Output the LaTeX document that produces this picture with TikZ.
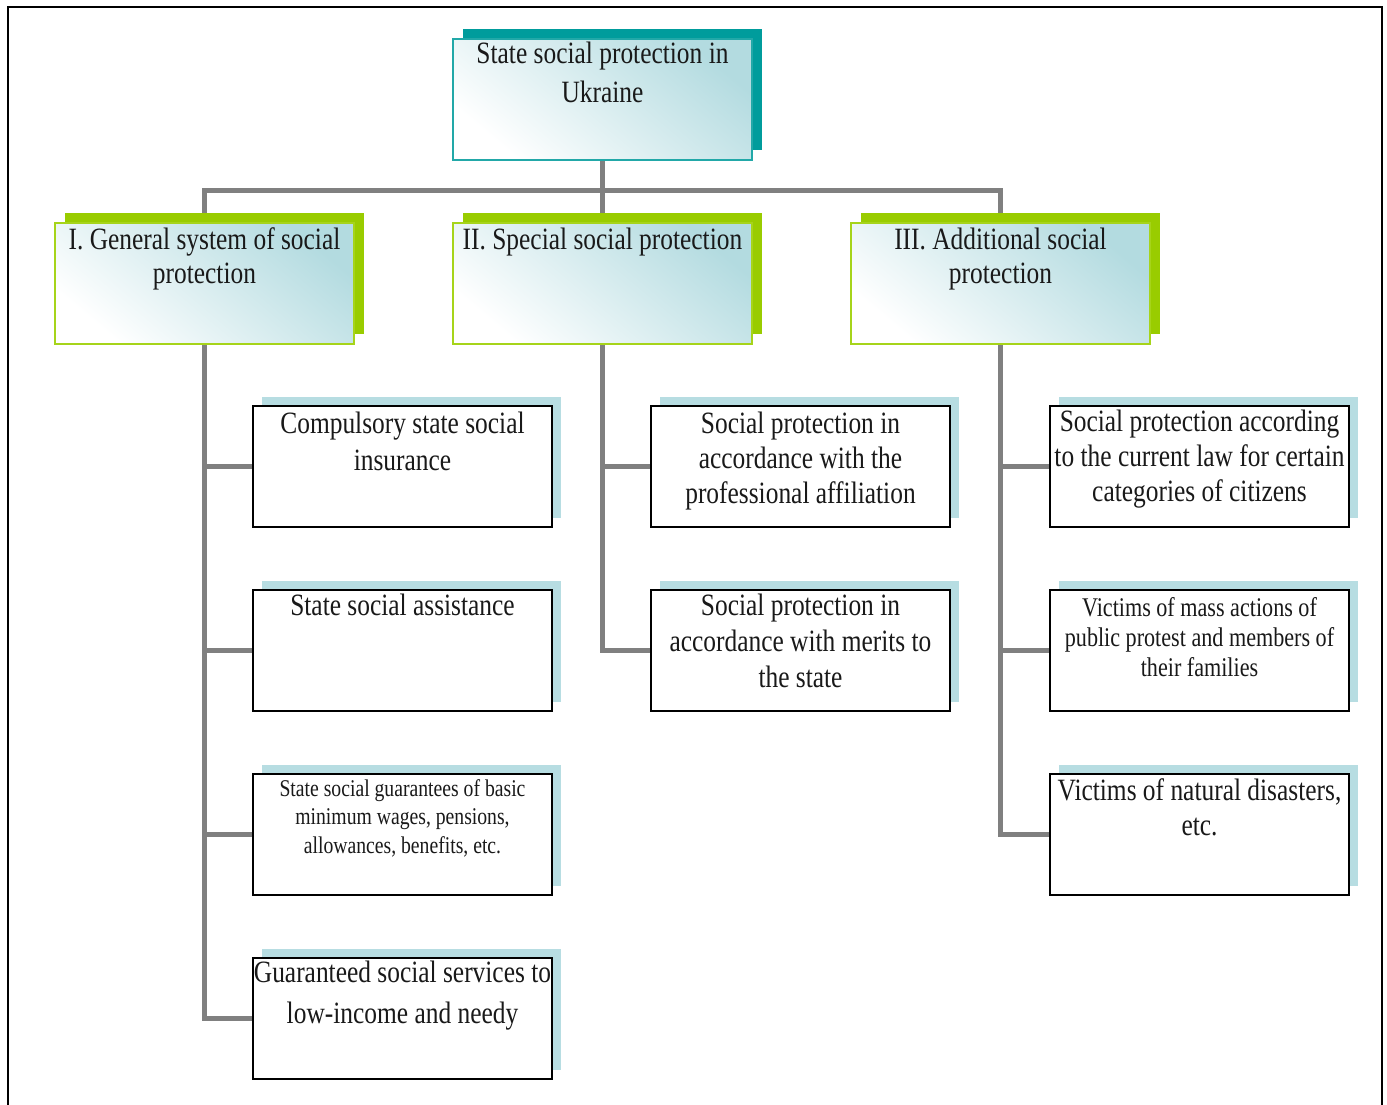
\documentclass[tikz,border=0pt]{standalone}
\usepackage{fontspec}
\setmainfont{Liberation Serif}[FakeStretch=0.82]
\usetikzlibrary{shadows}
\definecolor{tealc}{HTML}{009C9C}
\definecolor{tealb}{HTML}{22A8A8}
\definecolor{greenc}{HTML}{99CC00}
\definecolor{greenb}{HTML}{A6D41A}
\definecolor{ltblue}{HTML}{B7DDE2}
\definecolor{grad}{HTML}{B3DBE0}
\definecolor{connc}{HTML}{808080}
\pgfdeclarelayer{bg}
\pgfsetlayers{bg,main}
\newcommand\lines[3]{{\fontsize{#1}{#2}\selectfont\begin{tabular}[t]{@{}c@{}}#3\end{tabular}}}
\begin{document}
\begin{tikzpicture}[x=1pt,y=-1pt,
  boxbase/.style={anchor=north west, minimum width=299, minimum height=121, inner sep=0},
  topbox/.style={boxbase, draw=tealb, line width=2, top color=grad, bottom color=white, shading angle=-40,
     general shadow={fill=tealc, shadow xshift=10pt, shadow yshift=10pt}},
  midbox/.style={boxbase, draw=greenb, line width=2, top color=grad, bottom color=white, shading angle=-40,
     general shadow={fill=greenc, shadow xshift=10pt, shadow yshift=10pt}},
  leaf/.style={boxbase, draw=black, line width=2, fill=white,
     general shadow={fill=ltblue, shadow xshift=9pt, shadow yshift=9pt}},
  txt/.style={anchor=base, inner sep=0, text=black!90},
  conn/.style={draw=connc, line width=5, line cap=rect, line join=miter}]
\useasboundingbox (0,0) rectangle (1387,1104);
\draw[line width=2] (8,1110) -- (8,7) -- (1382,7) -- (1382,1110);

\coordinate (bus) at (601.5,190);

% main boxes
\node[topbox] (top) at (452,38) {};
\node[midbox] (l1) at (54,222) {};
\node[midbox] (l2) at (452,222) {};
\node[midbox] (l3) at (850,222) {};

% leaves
\node[leaf] (a1) at (252,405) {};
\node[leaf] (a2) at (252,589) {};
\node[leaf] (a3) at (252,773) {};
\node[leaf] (a4) at (252,957) {};
\node[leaf] (b1) at (650,405) {};
\node[leaf] (b2) at (650,589) {};
\node[leaf] (c1) at (1049,405) {};
\node[leaf] (c2) at (1049,589) {};
\node[leaf] (c3) at (1049,773) {};

% connectors (behind boxes)
\begin{pgfonlayer}{bg}
\draw[conn] (top.south) -- (l2.north);
\draw[conn] (l1.north) |- (bus) -| (l3.north);
\draw[conn] (l1.south) |- (a4.west);
\draw[conn] (l1.south |- a1.west) -- (a1.west);
\draw[conn] (l1.south |- a2.west) -- (a2.west);
\draw[conn] (l1.south |- a3.west) -- (a3.west);
\draw[conn] (l2.south) |- (b2.west);
\draw[conn] (l2.south |- b1.west) -- (b1.west);
\draw[conn] (l3.south) |- (c3.west);
\draw[conn] (l3.south |- c1.west) -- (c1.west);
\draw[conn] (l3.south |- c2.west) -- (c2.west);
\end{pgfonlayer}

% texts
\node[txt] (ttop) at (top.north |- 0,63) {\lines{31}{39}{State social protection in\\Ukraine}};
\node[txt] (tl1) at (l1.north |- 0,249) {\lines{31}{34}{I. General system of social\\protection}};
\node[txt] (tl2) at (l2.north |- 0,249) {\lines{31}{34}{II. Special social protection}};
\node[txt] (tl3) at (l3.north |- 0,249) {\lines{31}{34}{III. Additional social\\protection}};

\node[txt] (ta1) at (a1.north |- 0,433) {\lines{31}{37}{Compulsory state social\\insurance}};
\node[txt] (ta2) at (a2.north |- 0,615) {\lines{31}{37}{State social assistance}};
\node[txt] (ta3) at (a3.north |- 0,796) {\lines{24}{28.5}{State social guarantees of basic\\minimum wages, pensions,\\allowances, benefits, etc.}};
\node[txt] (ta4) at (a4.north |- 0,982) {\lines{31}{41}{Guaranteed social services to\\low-income and needy}};

\node[txt] (tb1) at (b1.north |- 0,433) {\lines{31}{35}{Social protection in\\accordance with the\\professional affiliation}};
\node[txt] (tb2) at (b2.north |- 0,615) {\lines{31}{36}{Social protection in\\accordance with merits to\\the state}};

\node[txt] (tc1) at (c1.north |- 0,431) {\lines{31}{35}{Social protection according\\to the current law for certain\\categories of citizens}};
\node[txt] (tc2) at (c2.north |- 0,616) {\lines{27}{30}{Victims of mass actions of\\public protest and members of\\their families}};
\node[txt] (tc3) at (c3.north |- 0,800) {\lines{31}{35}{Victims of natural disasters,\\etc.}};
\end{tikzpicture}
\end{document}
